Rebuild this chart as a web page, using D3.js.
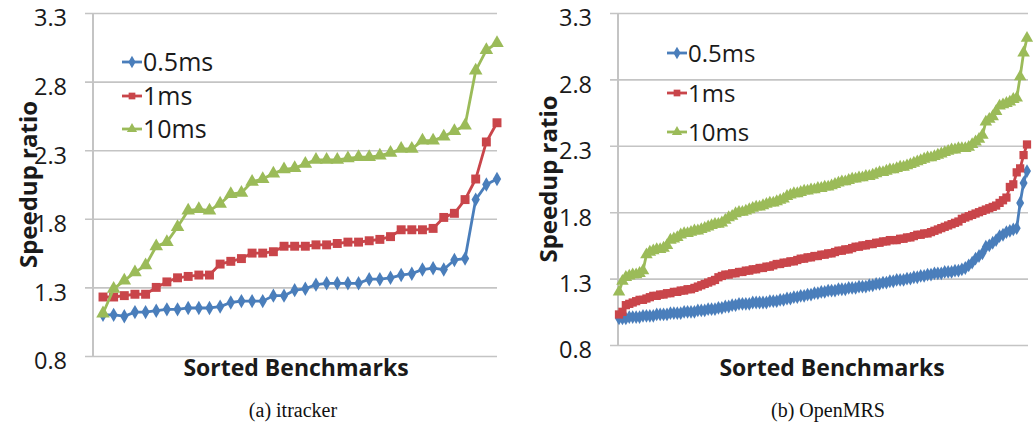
<!DOCTYPE html>
<html>
<head>
<meta charset="utf-8">
<script src="https://cdn.jsdelivr.net/npm/d3@7/dist/d3.min.js"></script>
<style>
body { margin: 0; background: #ffffff; }
</style>
</head>
<body>
<div id="chart"></div>
<script>
// Size of the whole figure
let width = 1033;
let height = 427;

let seriesNames = ['0.5ms', '1ms', '10ms'];
let yTicks = [0.8, 1.3, 1.8, 2.3, 2.8, 3.3];
let colors = ['#4a7ebb', '#c9454a', '#9bbb59'];

// (a) itracker, 38 sorted benchmarks
let itracker05 = [1.10, 1.10, 1.09, 1.12, 1.12, 1.13, 1.14, 1.14, 1.15, 1.15,
    1.15, 1.16, 1.19, 1.20, 1.20, 1.20, 1.24, 1.24, 1.28, 1.29,
    1.32, 1.33, 1.33, 1.33, 1.33, 1.36, 1.36, 1.37, 1.39, 1.40,
    1.43, 1.44, 1.43, 1.50, 1.51, 1.94, 2.05, 2.09];
let itracker1 = [1.23, 1.23, 1.24, 1.25, 1.25, 1.30, 1.34, 1.37, 1.38, 1.39,
    1.39, 1.47, 1.49, 1.51, 1.55, 1.55, 1.56, 1.60, 1.60, 1.60,
    1.61, 1.61, 1.62, 1.63, 1.63, 1.64, 1.65, 1.67, 1.72, 1.72,
    1.72, 1.73, 1.81, 1.84, 1.94, 2.09, 2.36, 2.50];
let itracker10 = [1.11, 1.29, 1.35, 1.41, 1.46, 1.60, 1.63, 1.74, 1.86, 1.87,
    1.86, 1.91, 1.98, 1.99, 2.07, 2.09, 2.13, 2.16, 2.17, 2.20,
    2.23, 2.23, 2.23, 2.24, 2.25, 2.25, 2.26, 2.28, 2.31, 2.31,
    2.37, 2.37, 2.40, 2.44, 2.48, 2.88, 3.03, 3.08];

// (b) OpenMRS, 120 sorted benchmarks
let openmrs05 = [1.00, 1.00, 1.00, 1.01, 1.01, 1.01, 1.01, 1.02, 1.02, 1.02,
    1.02, 1.03, 1.03, 1.03, 1.03, 1.04, 1.04, 1.04, 1.04, 1.05,
    1.05, 1.05, 1.05, 1.06, 1.06, 1.06, 1.07, 1.07, 1.07, 1.08,
    1.08, 1.09, 1.09, 1.10, 1.10, 1.11, 1.11, 1.11, 1.11, 1.12,
    1.12, 1.12, 1.12, 1.12, 1.13, 1.13, 1.13, 1.14, 1.14, 1.15,
    1.15, 1.16, 1.16, 1.17, 1.17, 1.18, 1.18, 1.19, 1.19, 1.20,
    1.20, 1.21, 1.21, 1.21, 1.22, 1.22, 1.22, 1.23, 1.23, 1.23,
    1.24, 1.24, 1.24, 1.25, 1.25, 1.26, 1.26, 1.27, 1.27, 1.28,
    1.28, 1.29, 1.29, 1.29, 1.30, 1.30, 1.31, 1.31, 1.32, 1.32,
    1.33, 1.33, 1.34, 1.34, 1.34, 1.35, 1.35, 1.35, 1.36, 1.36,
    1.37, 1.38, 1.40, 1.42, 1.45, 1.47, 1.49, 1.54, 1.55, 1.57,
    1.59, 1.62, 1.63, 1.65, 1.66, 1.67, 1.68, 1.87, 2.02, 2.11];
let openmrs1 = [1.03, 1.05, 1.10, 1.11, 1.12, 1.13, 1.14, 1.14, 1.15, 1.16,
    1.17, 1.17, 1.18, 1.18, 1.19, 1.19, 1.20, 1.20, 1.21, 1.21,
    1.22, 1.22, 1.23, 1.24, 1.25, 1.26, 1.27, 1.28, 1.29, 1.31,
    1.32, 1.33, 1.33, 1.34, 1.34, 1.35, 1.35, 1.36, 1.36, 1.37,
    1.37, 1.38, 1.38, 1.39, 1.39, 1.40, 1.41, 1.41, 1.42, 1.42,
    1.43, 1.43, 1.44, 1.45, 1.45, 1.46, 1.46, 1.47, 1.47, 1.48,
    1.48, 1.49, 1.49, 1.50, 1.51, 1.51, 1.52, 1.52, 1.53, 1.54,
    1.54, 1.55, 1.55, 1.56, 1.56, 1.57, 1.57, 1.58, 1.58, 1.59,
    1.59, 1.59, 1.60, 1.60, 1.61, 1.61, 1.62, 1.63, 1.63, 1.64,
    1.64, 1.65, 1.66, 1.67, 1.68, 1.69, 1.70, 1.71, 1.72, 1.73,
    1.75, 1.76, 1.77, 1.78, 1.79, 1.80, 1.81, 1.82, 1.83, 1.84,
    1.85, 1.87, 1.89, 1.91, 1.99, 2.01, 2.10, 2.13, 2.23, 2.31];
let openmrs10 = [1.20, 1.28, 1.31, 1.32, 1.33, 1.33, 1.34, 1.36, 1.48, 1.50,
    1.51, 1.52, 1.52, 1.53, 1.55, 1.59, 1.60, 1.61, 1.63, 1.64,
    1.64, 1.65, 1.66, 1.66, 1.67, 1.68, 1.69, 1.70, 1.71, 1.71,
    1.72, 1.74, 1.76, 1.77, 1.79, 1.80, 1.80, 1.81, 1.82, 1.83,
    1.84, 1.84, 1.85, 1.86, 1.87, 1.87, 1.88, 1.89, 1.90, 1.92,
    1.93, 1.94, 1.94, 1.95, 1.96, 1.96, 1.97, 1.97, 1.98, 1.98,
    1.99, 1.99, 2.00, 2.01, 2.02, 2.03, 2.03, 2.04, 2.05, 2.05,
    2.06, 2.06, 2.07, 2.07, 2.08, 2.09, 2.10, 2.10, 2.11, 2.12,
    2.12, 2.13, 2.14, 2.14, 2.15, 2.16, 2.17, 2.18, 2.19, 2.20,
    2.21, 2.21, 2.22, 2.23, 2.24, 2.25, 2.26, 2.27, 2.27, 2.28,
    2.28, 2.28, 2.29, 2.31, 2.33, 2.35, 2.38, 2.48, 2.50, 2.52,
    2.56, 2.60, 2.61, 2.62, 2.63, 2.65, 2.66, 2.82, 3.00, 3.11];

let svg = d3.select('#chart')
.append('svg')
.attr('width', width)
.attr('height', height)
.style('font-family', '"Open Sans", sans-serif');

// Marker shapes per series: diamond, square, triangle
let symbols = [d3.symbolDiamond, d3.symbolSquare, d3.symbolTriangle];

function drawPanel(p){
    let g = svg.append('g');

    let y = d3.scaleLinear()
    .domain([0.8, 3.3])
    .range([p.yBottom, p.yTop]);

    let x = d3.scaleLinear()
    .domain([0, p.series[0].length - 1])
    .range([p.dataX0, p.dataX1]);

    // Gridlines with tick labels, drawn from the right edge to the left
    let axis = d3.axisLeft(y)
    .tickValues(yTicks)
    .tickFormat(d3.format('.1f'))
    .tickSize(p.gridX1 - p.gridX0)
    .tickPadding(p.gridX0 - p.labelRight);

    let ag = g.append('g')
    .attr('transform', 'translate(' + p.gridX1 + ',0)')
    .call(axis);
    ag.select('.domain').remove();
    ag.selectAll('line').attr('stroke', '#c4c4c4').attr('stroke-width', 1.6);
    ag.selectAll('text')
    .attr('fill', '#1a1a1a')
    .attr('dy', '0.55em')
    .style('font-size', '23.5px')
    .style('font-family', '"Open Sans", sans-serif');

    // Vertical axis line
    g.append('line')
    .attr('x1', p.axisX).attr('x2', p.axisX)
    .attr('y1', p.yTop).attr('y2', p.yBottom)
    .attr('stroke', '#c4c4c4')
    .attr('stroke-width', 2);

    let line = d3.line()
    .x(function(d, i){ return x(i); })
    .y(function(d){ return y(d); });

    p.series.forEach(function(values, s){
        g.append('path')
        .datum(values)
        .attr('d', line)
        .attr('fill', 'none')
        .attr('stroke', colors[s])
        .attr('stroke-width', 2.8)
        .attr('stroke-linejoin', 'round');

        g.selectAll('.m' + s)
        .data(values)
        .enter()
        .append('path')
        .attr('class', 'm' + s)
        .attr('transform', function(d, i){ return 'translate(' + x(i) + ',' + y(d) + ')'; })
        .attr('d', d3.symbol().type(symbols[s]).size(p.markerSizes[s]))
        .attr('fill', colors[s]);
    });

    // Legend
    seriesNames.forEach(function(name, s){
        let ly = p.legendY[s];
        g.append('line')
        .attr('x1', p.legendX).attr('x2', p.legendX + 20)
        .attr('y1', ly).attr('y2', ly)
        .attr('stroke', colors[s])
        .attr('stroke-width', 2.8);
        g.append('path')
        .attr('transform', 'translate(' + (p.legendX + 10) + ',' + ly + ')')
        .attr('d', d3.symbol().type(symbols[s]).size(45))
        .attr('fill', colors[s]);
        g.append('text')
        .attr('x', p.legendX + 21)
        .attr('y', ly)
        .attr('dy', '0.36em')
        .attr('fill', '#1a1a1a')
        .style('font-size', p.legendFont)
        .text(name);
    });

    // Axis titles
    g.append('text')
    .attr('transform', 'translate(' + p.titleX + ',' + ((p.yTop + p.yBottom) / 2) + ') rotate(-90)')
    .attr('text-anchor', 'middle')
    .attr('dy', '0.36em')
    .attr('fill', '#1a1a1a')
    .style('font-size', '24px')
    .style('font-weight', 'bold')
    .text('Speedup ratio');

    g.append('text')
    .attr('x', p.xLabelX)
    .attr('y', 368)
    .attr('text-anchor', 'middle')
    .attr('dy', '0.36em')
    .attr('fill', '#1a1a1a')
    .style('font-size', '23px')
    .style('font-weight', 'bold')
    .text('Sorted Benchmarks');

    // Caption under the panel
    g.append('text')
    .attr('x', p.captionX)
    .attr('y', 417)
    .attr('text-anchor', 'middle')
    .attr('fill', '#111111')
    .style('font-size', '20px')
    .style('font-family', '"Liberation Serif", serif')
    .text(p.caption);
}

drawPanel({
    series: [itracker05, itracker1, itracker10],
    axisX: 93, gridX0: 85, gridX1: 497, dataX0: 103, dataX1: 497,
    yTop: 13, yBottom: 356, labelRight: 67,
    titleX: 28, xLabelX: 296, captionX: 293,
    legendX: 122, legendY: [62, 96, 129], legendFont: '25px',
    markerSizes: [60, 80, 80],
    caption: '(a) itracker'
});

drawPanel({
    series: [openmrs05, openmrs1, openmrs10],
    axisX: 618, gridX0: 610, gridX1: 1028, dataX0: 619, dataX1: 1027,
    yTop: 13, yBottom: 345, labelRight: 592,
    titleX: 548, xLabelX: 832, captionX: 828,
    legendX: 667, legendY: [53, 93, 132], legendFont: '24px',
    markerSizes: [55, 68, 68],
    caption: '(b) OpenMRS'
});
</script>
</body>
</html>
